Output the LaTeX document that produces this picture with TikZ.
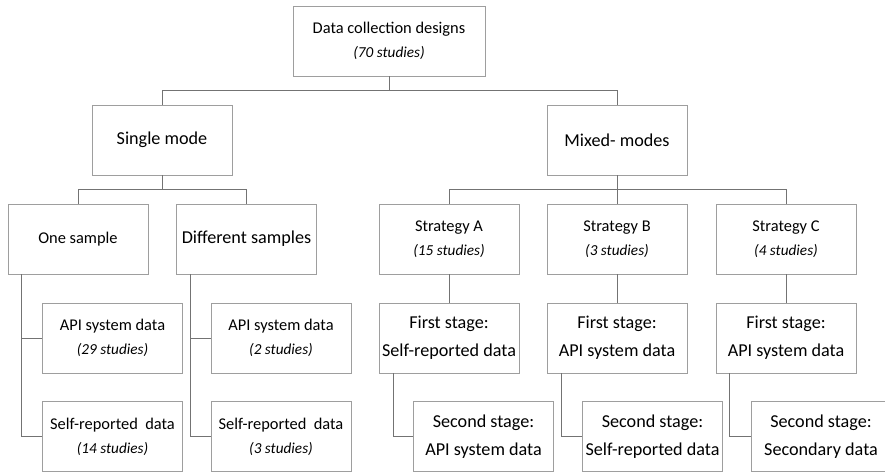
\documentclass[tikz,border=0pt]{standalone}
\usepackage{fontspec}
\setmainfont{Carlito}
\usetikzlibrary{calc}
\tikzset{
	box/.style={draw=black!38, line width=0.7pt, rectangle, inner sep=0pt, align=center,
		minimum width=4.2cm, minimum height=2.1cm, font=\fontsize{14}{20.4}\selectfont},
	bigbox/.style={box, font=\fontsize{15.5}{23.8}\selectfont},
	link/.style={draw=black!55, line width=0.7pt},
}
\def\nstud#1{{\itshape\fontsize{13}{20.4}\selectfont(#1 studies)}}

\begin{document}
\begin{tikzpicture}[x=0.03cm, y=-0.03cm]
		%%%%% START %%%%%
		\useasboundingbox (0, 0) rectangle (885, 474);
		\clip (0, 0) rectangle (885, 474);
		
		\node[box, minimum width=5.76cm] (root) at (389, 41) {Data collection designs\\\nstud{70}};
		
		\node[bigbox] (single) at (162, 140) {Single mode};
		\node[bigbox] (mixed) at (617, 140) {Mixed- modes};
		
		\node[box] (one) at (78, 239) {One sample};
		\node[bigbox] (diff) at (246.5, 239) {Different samples};
		
		\node[box] (stratA) at (449, 239) {Strategy A\\\nstud{15}};
		\node[box] (stratB) at (617, 239) {Strategy B\\\nstud{3}};
		\node[box] (stratC) at (786, 239) {Strategy C\\\nstud{4}};
		
		\node[box] (apione) at (112.5, 338) {API system data\\\nstud{29}};
		\node[box] (selfone) at (112.5, 436.5) {Self-reported~~data\\\nstud{14}};
		\node[box] (apidiff) at (281, 338) {API system data\\\nstud{2}};
		\node[box] (selfdiff) at (281, 436.5) {Self-reported~~data\\\nstud{3}};
		
		\node[bigbox] (firstA) at (449, 338) {First stage:\\Self-reported data};
		\node[bigbox] (firstB) at (617, 338) {First stage:\\API system data};
		\node[bigbox] (firstC) at (786, 338) {First stage:\\API system data};
		
		\node[bigbox] (secA) at (483.5, 436.5) {Second stage:\\API system data};
		\node[bigbox] (secB) at (652.5, 436.5) {Second stage:\\Self-reported data};
		\node[bigbox] (secC) at (821, 436.5) {Second stage:\\Secondary data};
		
		% tree links
		\draw[link] (root.south) -- ++(0, 14) -| (single.north);
		\draw[link] (root.south) -- ++(0, 14) -| (mixed.north);
		
		\draw[link] (single.south) -- ++(0, 14) -| (one.north);
		\draw[link] (single.south) -- ++(0, 14) -| (diff.north);
		
		\draw[link] (mixed.south) -- ++(0, 14) -| (stratA.north);
		\draw[link] (mixed.south) -- (stratB.north);
		\draw[link] (mixed.south) -- ++(0, 14) -| (stratC.north);
		
		\draw[link] ([xshift=0.42cm]one.south west) |- (apione.west);
		\draw[link] ([xshift=0.42cm]one.south west) |- (selfone.west);
		\draw[link] ([xshift=0.42cm]diff.south west) |- (apidiff.west);
		\draw[link] ([xshift=0.42cm]diff.south west) |- (selfdiff.west);
		
		\draw[link] (stratA.south) -- (firstA.north);
		\draw[link] (stratB.south) -- (firstB.north);
		\draw[link] (stratC.south) -- (firstC.north);
		
		\draw[link] ([xshift=0.45cm]firstA.south west) |- (secA.west);
		\draw[link] ([xshift=0.45cm]firstB.south west) |- (secB.west);
		\draw[link] ([xshift=0.42cm]firstC.south west) |- (secC.west);
		
		%%%%% END %%%%%
\end{tikzpicture}
\end{document}
